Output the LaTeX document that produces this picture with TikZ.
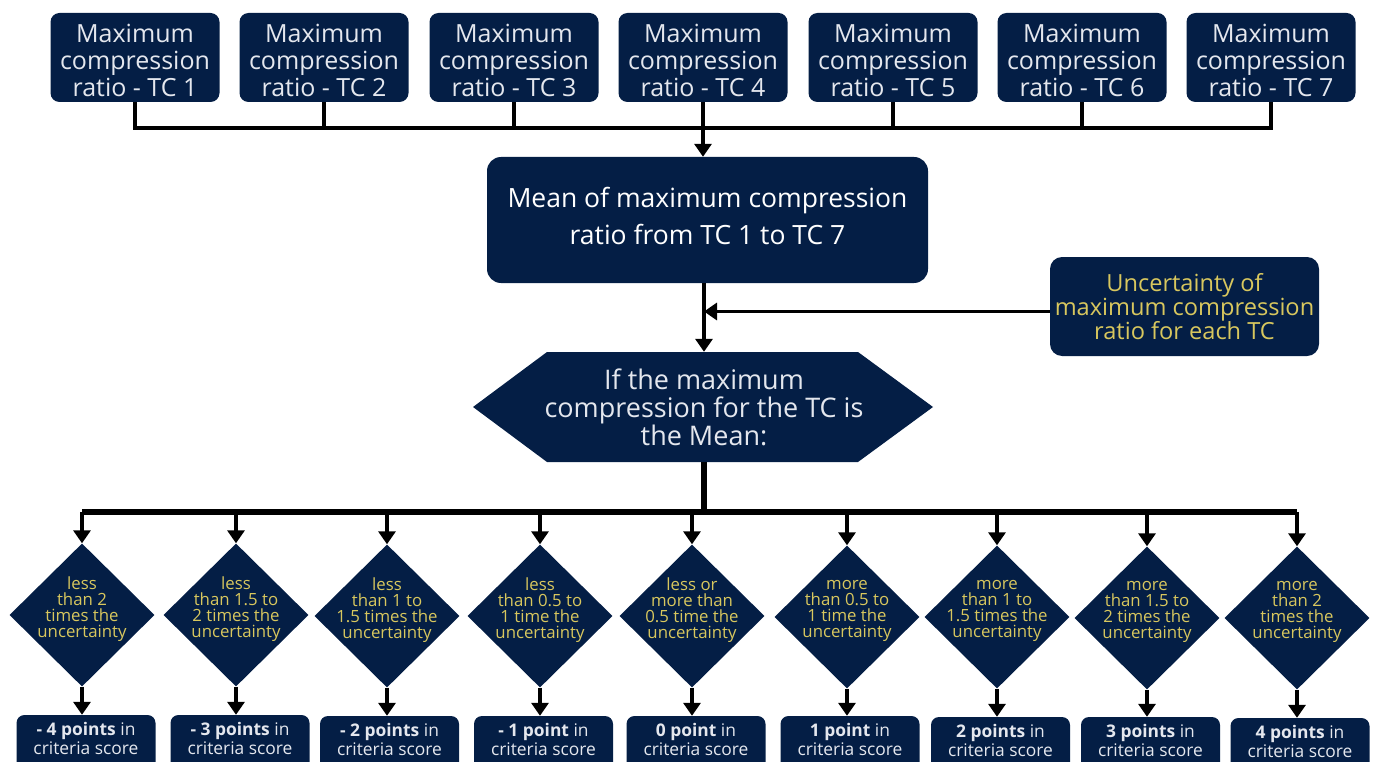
\documentclass[tikz,border=0pt]{standalone}
\usepackage{fontspec}
\setmainfont{Open Sans}
\usetikzlibrary{arrows.meta,shapes.geometric}
\definecolor{navy}{HTML}{041E45}
\definecolor{gold}{HTML}{D8C75E}
\definecolor{pale}{HTML}{E4E7EE}
\begin{document}
\begin{tikzpicture}[x=1pt,y=-1pt,
  conn/.style={line width=3.5pt},
  thick conn/.style={line width=5.5pt},
  arr/.style={line width=3.5pt,-{Triangle[width=17pt,length=13pt]}},
  tcbox/.style={fill=navy,rounded corners=9pt,minimum width=169pt,minimum height=89pt,inner sep=0pt},
  tctext/.style={align=center,text=pale,yshift=-3pt,font=\fontsize{25}{27}\selectfont},
  meanbox/.style={fill=navy,rounded corners=14pt,minimum width=441pt,minimum height=126pt,inner sep=0pt},
  meantext/.style={align=center,text=white,yshift=4pt,font=\fontsize{26.5}{37}\selectfont},
  uncbox/.style={fill=navy,rounded corners=12pt,minimum width=269pt,minimum height=99pt,
    inner sep=0pt,align=center,text=gold,font=\fontsize{23.6}{24}\selectfont},
  hexbox/.style={minimum width=460pt,minimum height=110pt,inner sep=0pt,align=center,
    text=pale,font=\fontsize{27}{28}\selectfont},
  diam/.style={diamond,fill=navy,minimum width=145pt,minimum height=143pt,inner sep=0pt},
  dtext/.style={align=center,text=gold,yshift=6pt,font=\fontsize{16.8}{16}\selectfont},
  scorebox/.style={fill=navy,rounded corners=8pt,minimum width=139pt,minimum height=60pt,inner sep=0pt},
  stext/.style={align=center,text=pale,yshift=6.5pt,font=\fontsize{17.4}{19}\selectfont},
]
\useasboundingbox (0,0) rectangle (1373,762);
\clip (0,0) rectangle (1373,762);

% test cases
\foreach \i/\x in {1/135,2/324,3/514,4/703,5/893,6/1082,7/1271}
  \node[tcbox,label={[tctext]center:{Maximum\\compression\\ratio - TC \i}}] (t\i) at (\x,57.5) {};

% mean and uncertainty
\node[meanbox,label={[meantext]center:{Mean of maximum compression\\ratio from TC 1 to TC 7}}] (mean) at (707.5,220) {};
\node[uncbox] (unc) at (1184.5,306.5) {Uncertainty of\\maximum compression\\ratio for each TC};

% decision hexagon
\begin{scope}[shift={(704,407)}]
  \fill[navy] (-231,0) -- (-157,-55) -- (154,-55) -- (229,0) -- (154,55) -- (-157,55) -- cycle;
\end{scope}
\node[hexbox] (hex) at (704,407) {If the maximum\\compression for the TC is\\the Mean:};

% comparison diamonds
\node[diam,label={[dtext]center:{less\\than 2\\times the\\uncertainty}}] (d1) at (82,615) {};
\node[diam,label={[dtext]center:{less\\than 1.5 to\\2 times the\\uncertainty}}] (d2) at (236,615) {};
\node[diam,label={[dtext]center:{less\\than 1 to\\1.5 times the\\uncertainty}}] (d3) at (387,616) {};
\node[diam,label={[dtext]center:{less\\than 0.5 to\\1 time the\\uncertainty}}] (d4) at (540,616) {};
\node[diam,label={[dtext]center:{less or\\more than\\0.5 time the\\uncertainty}}] (d5) at (692,616) {};
\node[diam,label={[dtext]center:{more\\than 0.5 to\\1 time the\\uncertainty}}] (d6) at (847,617) {};
\node[diam,label={[dtext]center:{more\\than 1 to\\1.5 times the\\uncertainty}}] (d7) at (997,617) {};
\node[diam,label={[dtext]center:{more\\than 1.5 to\\2 times the\\uncertainty}}] (d8) at (1147,618) {};
\node[diam,label={[dtext]center:{more\\than 2\\times the\\uncertainty}}] (d9) at (1297,618) {};

% scores
\node[scorebox,label={[stext]center:{\textbf{- 4 points} in\\criteria score}}] (s1) at (86,745) {};
\node[scorebox,label={[stext]center:{\textbf{- 3 points} in\\criteria score}}] (s2) at (240,745) {};
\node[scorebox,label={[stext]center:{\textbf{- 2 points} in\\criteria score}}] (s3) at (389.5,746) {};
\node[scorebox,label={[stext]center:{\textbf{- 1 point} in\\criteria score}}] (s4) at (543.5,746) {};
\node[scorebox,label={[stext]center:{\textbf{0 point} in\\criteria score}}] (s5) at (696,746) {};
\node[scorebox,label={[stext]center:{\textbf{1 point} in\\criteria score}}] (s6) at (850,746) {};
\node[scorebox,label={[stext]center:{\textbf{2 points} in\\criteria score}}] (s7) at (1000.5,747) {};
\node[scorebox,label={[stext]center:{\textbf{3 points} in\\criteria score}}] (s8) at (1150.5,747) {};
\node[scorebox,label={[stext]center:{\textbf{4 points} in\\criteria score}}] (s9) at (1300,748) {};

% top collector bar
\coordinate (tj) at (703,128);
\draw[conn] (t1.south) -- (t1.south |- tj) -- (t7.south |- tj) -- (t7.south);
\foreach \i in {2,...,6}
  \draw[conn] (t\i.south) -- (t\i.south |- tj);
\draw[arr] (tj) -- (tj |- mean.north);

% mean to decision, uncertainty joins in
\draw[arr] (hex.north |- mean.south) -- (hex.north);
\draw[arr] ([yshift=-5pt]unc.west) -- ([yshift=-5pt]unc.west -| hex.north);

% distribution bar
\path (hex.south) ++(0,50) coordinate (bj);
\draw[thick conn] (hex.south) -- (bj);
\draw[thick conn] (d1.north |- bj) -- (d9.north |- bj);
\foreach \i in {1,...,9} {
  \draw[arr] (d\i.north |- bj) -- (d\i.north);
  \draw[arr] (d\i.south) -- (d\i.south |- s\i.north);
}
\end{tikzpicture}
\end{document}
